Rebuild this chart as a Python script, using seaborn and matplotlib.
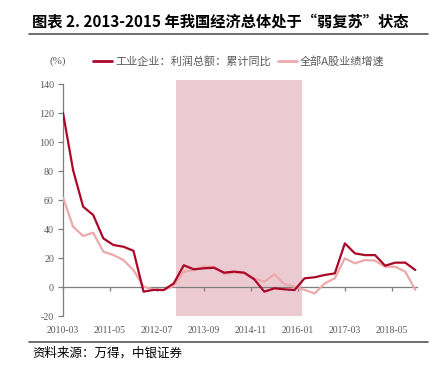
import numpy as np
import pandas as pd
import seaborn as sns
import matplotlib.pyplot as plt
from matplotlib.lines import Line2D

sns.set_theme(style="white")
plt.rcParams['font.family'] = ['Noto Sans CJK SC', 'DejaVu Sans']

# quarterly periods 2010-03 .. 2018-12
quarters = pd.period_range('2010-03', '2018-12', freq='3M').strftime('%Y-%m').tolist()

industrial_profit = [120.2, 80.7, 55.4, 49.7,
                     33.6, 29.0, 27.8, 25.0,
                     -3.2, -2.0, -2.1, 2.5,
                     15.0, 12.2, 12.9, 13.3,
                     9.9, 10.6, 9.9, 5.3,
                     -3.2, -0.9, -1.6, -2.1,
                     6.0, 6.7, 8.3, 9.4,
                     30.1, 23.2, 22.0, 22.0,
                     14.7, 16.8, 16.8, 11.7]
ashare_growth = [61.8, 41.6, 35.2, 37.5,
                 24.4, 22.1, 18.6, 11.7,
                 0.2, -1.6, -2.0, 0.7,
                 10.6, 11.7, 14.0, 14.0,
                 9.0, 9.9, 9.4, 6.0,
                 3.7, 8.8, 1.9, 0.2,
                 -2.0, -4.4, 2.5, 6.0,
                 19.8, 16.3, 18.6, 18.2,
                 14.0, 14.0, 10.6, -2.0]

series_names = ['工业企业：利润总额：累计同比', '全部A股业绩增速']
x_tick_labels = ['2010-03', '2011-05', '2012-07', '2013-09', '2014-11', '2016-01', '2017-03', '2018-05']
y_ticks = [-20, 0, 20, 40, 60, 80, 100, 120, 140]
shade_start, shade_end = '2012-12', '2016-02'

def month_index(s):
    y, m = map(int, s.split('-'))
    return (y - 2010) * 12 + (m - 3)

xs = [month_index(q) for q in quarters]
df = pd.DataFrame({
    'x': xs * 2,
    'value': industrial_profit + ashare_growth,
    'series': [series_names[0]] * len(xs) + [series_names[1]] * len(xs),
})

dark = '#AC0728'
light = '#EDA9AA'
gray = '#7F7F7F'
textgray = '#595959'

fig = plt.figure(figsize=(4.41, 3.73), dpi=100)
ax = fig.add_axes([63/441, 57/373, 354/441, 236/373])

ax.axvspan(month_index(shade_start) + 0.8, month_index(shade_end) + 0.2, color='#EBCBD1', lw=0, zorder=0)

sns.lineplot(data=df, x='x', y='value', hue='series', hue_order=series_names[::-1],
             palette={series_names[0]: dark, series_names[1]: light},
             linewidth=1.6, ax=ax, legend=False, zorder=3)

ax.set_xlim(0, 105.5)
ax.set_ylim(-20, 142.8)
ax.set_xlabel('')
ax.set_ylabel('')

for s in ['top', 'right']:
    ax.spines[s].set_visible(False)
ax.spines['left'].set_bounds(-20, 140)
ax.spines['left'].set_color(gray)
ax.spines['left'].set_linewidth(0.9)
ax.spines['bottom'].set_position(('data', 0))
ax.spines['bottom'].set_color(gray)
ax.spines['bottom'].set_linewidth(0.9)

ax.set_yticks(y_ticks)
ax.set_yticklabels([str(v) for v in y_ticks], fontfamily='Liberation Serif', fontsize=7.2, color=textgray)
ax.tick_params(axis='y', left=True, length=3.5, width=0.9, color=gray, pad=3)

tick_pos = [month_index(t) for t in x_tick_labels]
ax.set_xticks(tick_pos)
ax.tick_params(axis='x', bottom=True, length=3, width=0.9, color=gray, labelbottom=False)

sec = ax.secondary_xaxis(0)
sec.set_xticks(tick_pos)
sec.set_xticklabels(x_tick_labels, fontfamily='Liberation Serif', fontsize=7, color=textgray)
sec.tick_params(length=0, pad=7)
sec.spines['bottom'].set_visible(False)

handles = [Line2D([], [], color=dark, lw=2), Line2D([], [], color=light, lw=2)]
leg = fig.legend(handles, series_names, loc='center left', bbox_to_anchor=(93/441, 1 - 61.5/373),
                 ncol=2, frameon=False, fontsize=8, handlelength=1.7, handletextpad=0.3,
                 columnspacing=0.6, borderpad=0, borderaxespad=0)
for t in leg.get_texts():
    t.set_color(textgray)

fig.text(58/441, 1 - 61.5/373, '(%)', fontfamily='Liberation Serif', fontsize=8, color=textgray,
         ha='center', va='center')

fig.text(32/441, 1 - 22/373, '图表 2. 2013-2015 年我国经济总体处于“弱复苏”状态',
         fontsize=11, fontweight='bold', color='black', ha='left', va='center')
fig.add_artist(Line2D([29/441, 428/441], [1 - 33.5/373, 1 - 33.5/373], color='#555555', lw=1.2))
fig.add_artist(Line2D([29/441, 428/441], [1 - 341.5/373, 1 - 341.5/373], color='#555555', lw=1.2))
fig.text(32/441, 1 - 353/373, '资料来源：万得，中银证券', fontsize=9, color='black', ha='left', va='center',
         style='italic')

fig.savefig('out.png', dpi=100)
